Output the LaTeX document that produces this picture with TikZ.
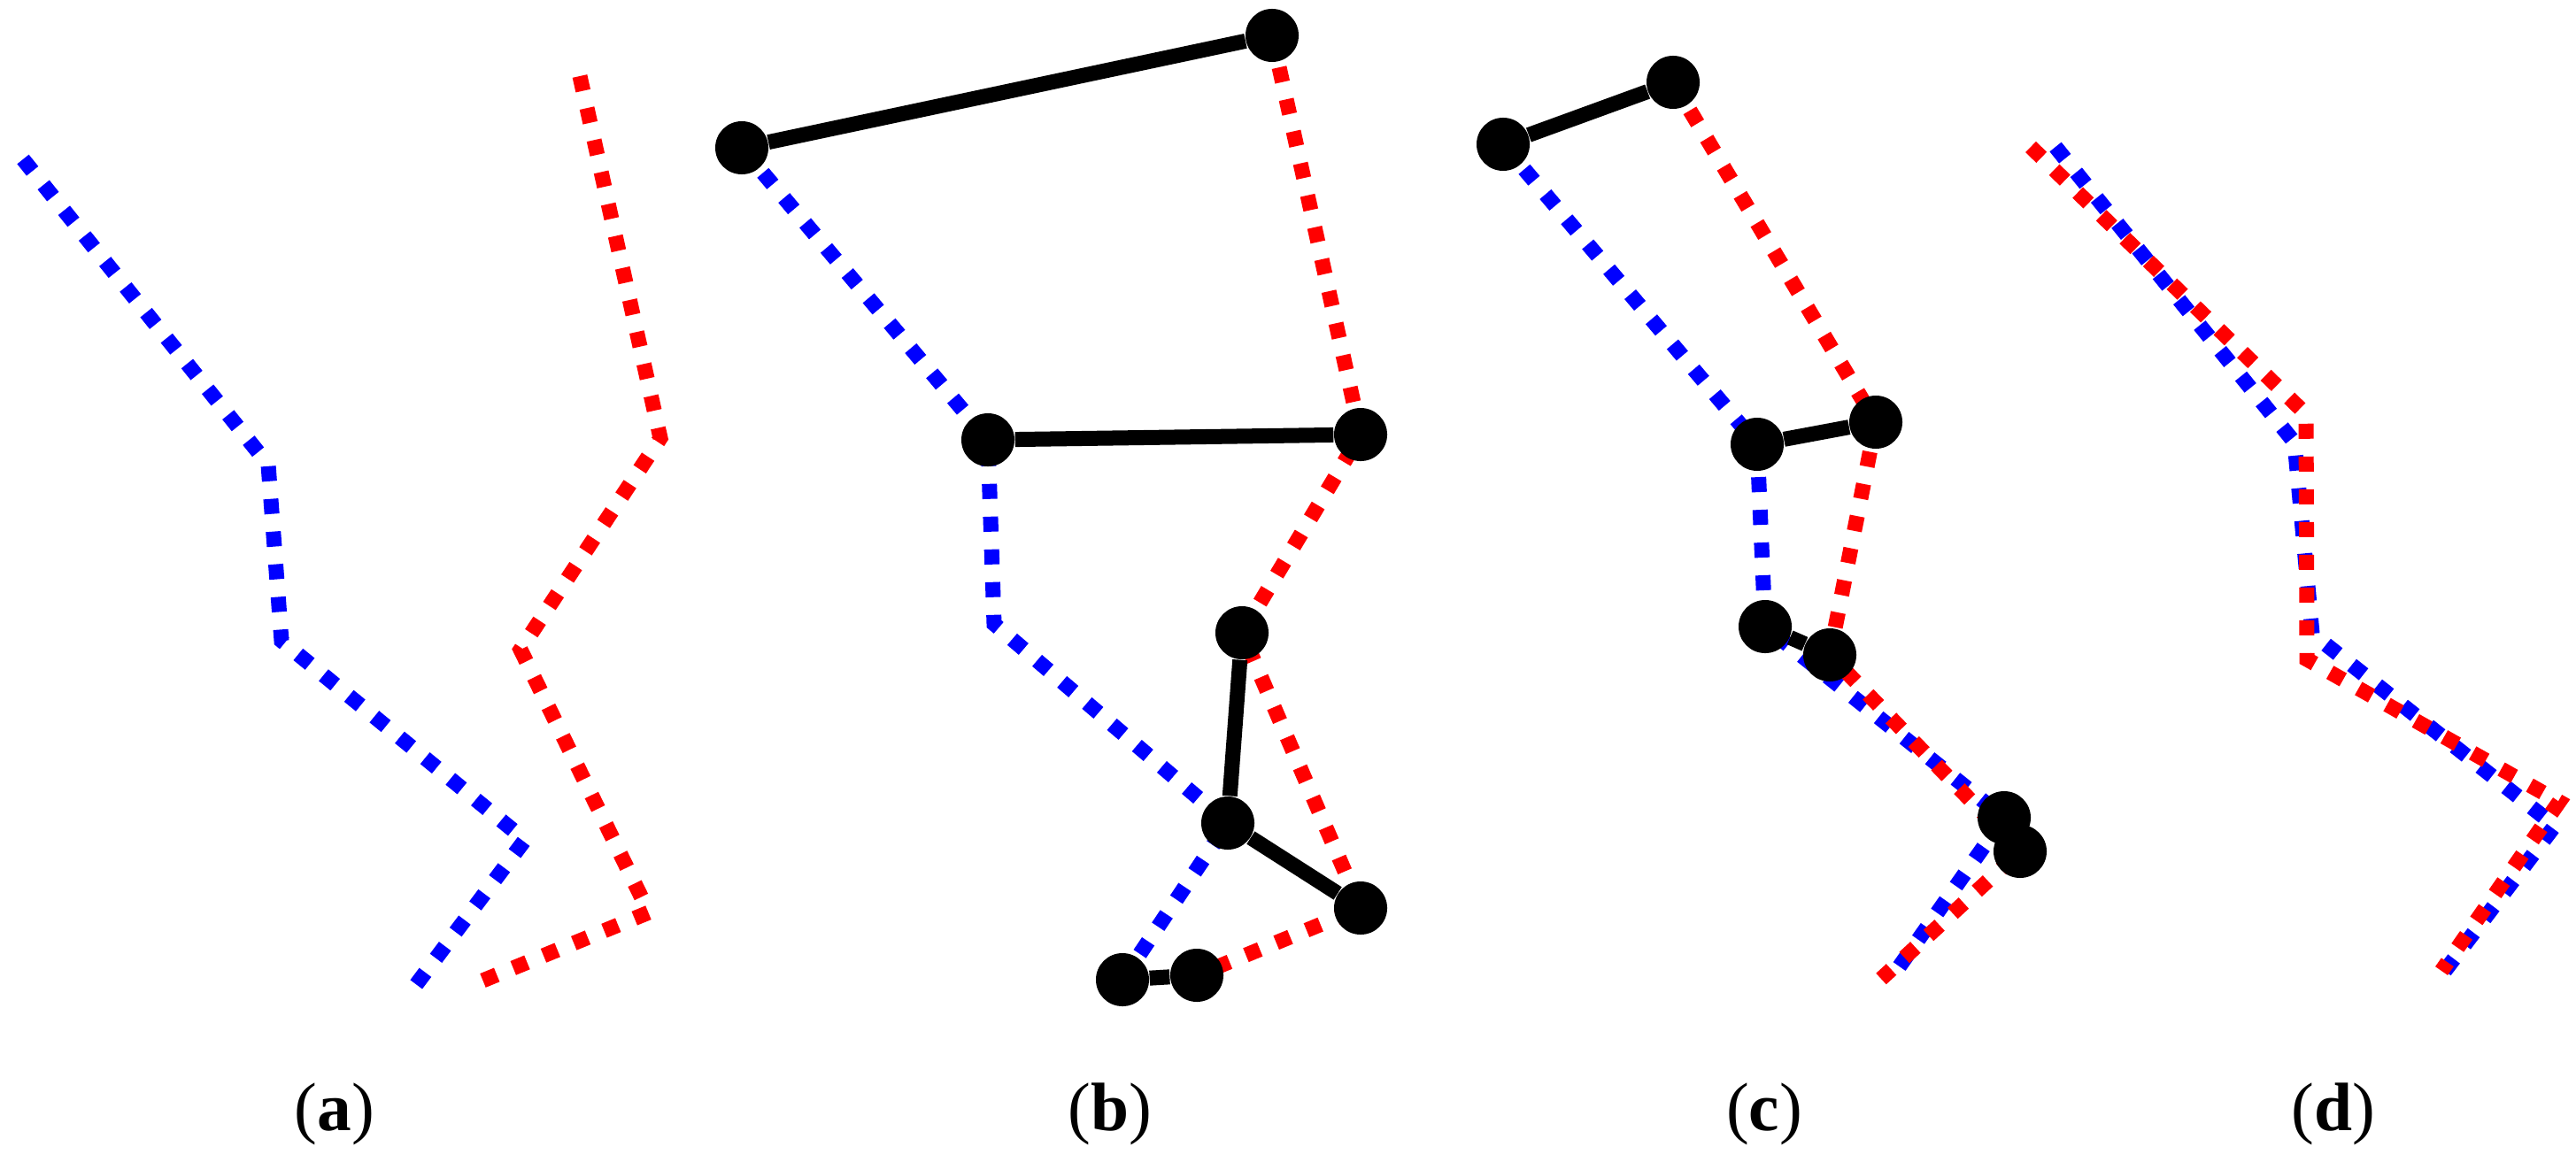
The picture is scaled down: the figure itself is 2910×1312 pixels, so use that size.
\documentclass[tikz,border=0pt]{standalone}
\usepackage{fontspec}
\setmainfont{Liberation Serif}
\begin{document}
\begin{tikzpicture}[x=0.01cm,y=-0.01cm,
  bluedot/.style={draw={rgb,255:red,0;green,0;blue,255},line width=0.17cm,dash pattern=on 0.17cm off 0.2cm},
  reddot/.style={draw={rgb,255:red,255;green,0;blue,0},line width=0.17cm,dash pattern=on 0.17cm off 0.2cm},
  blob/.style={circle,fill=black,minimum size=0.6cm,inner sep=0pt},
  link/.style={draw=black,line width=0.17cm},
  lab/.style={anchor=base,font=\fontsize{22}{26}\selectfont}]
\useasboundingbox (0,0) rectangle (2910,1312);
% ---------------- panel (a)
\coordinate (ab1) at (26,180);
\coordinate (ab2) at (303,525);
\coordinate (ab3) at (318,724);
\coordinate (ab4) at (593,949);
\coordinate (ab5) at (466,1118);
\coordinate (ar1) at (655,86);
\coordinate (ar2) at (746,495);
\coordinate (ar3) at (588,734);
\coordinate (ar4) at (733,1031);
\coordinate (ar5) at (538,1111);
\draw[bluedot] (ab1) -- (ab2) -- (ab3) -- (ab4) -- (ab5);
\draw[reddot] (ar1) -- (ar2) -- (ar3) -- (ar4) -- (ar5);
% ---------------- panel (b)
\coordinate (b1) at (1437,40);
\coordinate (b2) at (838,167);
\coordinate (b3) at (1116,497);
\coordinate (b4) at (1537,491);
\coordinate (b5) at (1403,715);
\coordinate (b6) at (1387,930);
\coordinate (b7) at (1537,1026);
\coordinate (b8) at (1268,1107);
\coordinate (b9) at (1352,1102);
\coordinate (bb1) at (1123,705);
\draw[bluedot] (b2) -- (b3) -- (bb1) -- (b6) -- (b8);
\draw[reddot] (b1) -- (b4) -- (b5) -- (b7) -- (b9);
\foreach \i in {1,...,9} {\node[blob] (B\i) at (b\i) {};}
\draw[link] (B2) -- (B1);
\draw[link] (B3) -- (B4);
\draw[link] (B5) -- (B6);
\draw[link] (B6) -- (B7);
\draw[link] (B8) -- (B9);
% ---------------- panel (c)
\coordinate (c1) at (1698,163);
\coordinate (c2) at (1890,93);
\coordinate (c3) at (1985,502);
\coordinate (c4) at (2119,477);
\coordinate (c5) at (1994,708);
\coordinate (c6) at (2067,740);
\coordinate (c7) at (2264,924);
\coordinate (c8) at (2282,962);
\coordinate (cb2) at (2140,1100);
\coordinate (cr2) at (2125,1106);
\draw[bluedot] (c1) -- (c3) -- (c5) -- (c7) -- (cb2);
\draw[reddot] (c2) -- (c4) -- (c6) -- (c8) -- (cr2);
\foreach \i in {1,...,8} {\node[blob] (C\i) at (c\i) {};}
\draw[link] (C1) -- (C2);
\draw[link] (C3) -- (C4);
\draw[link] (C5) -- (C6);
\draw[link] (C7) -- (C8);
% ---------------- panel (d)
\coordinate (db1) at (2322,166);
\coordinate (db2) at (2592,500);
\coordinate (db3) at (2612,716);
\coordinate (db4) at (2886,933);
\coordinate (db5) at (2752,1110);
\coordinate (dr1) at (2294,166);
\coordinate (dr2) at (2605,468);
\coordinate (dr3) at (2606,745);
\coordinate (dr4) at (2891,906);
\coordinate (dr5) at (2758,1097);
\draw[bluedot] (db1) -- (db2) -- (db3) -- (db4) -- (db5);
\draw[reddot] (dr1) -- (dr2) -- (dr3) -- (dr4) -- (dr5);
% ---------------- labels
\node[lab] (la) at (378,1277) {(\textbf{a})};
\node[lab] (lb) at (1254,1277) {(\textbf{b})};
\node[lab] (lc) at (1993,1277) {(\textbf{c})};
\node[lab] (ld) at (2636,1277) {(\textbf{d})};
\end{tikzpicture}
\end{document}
